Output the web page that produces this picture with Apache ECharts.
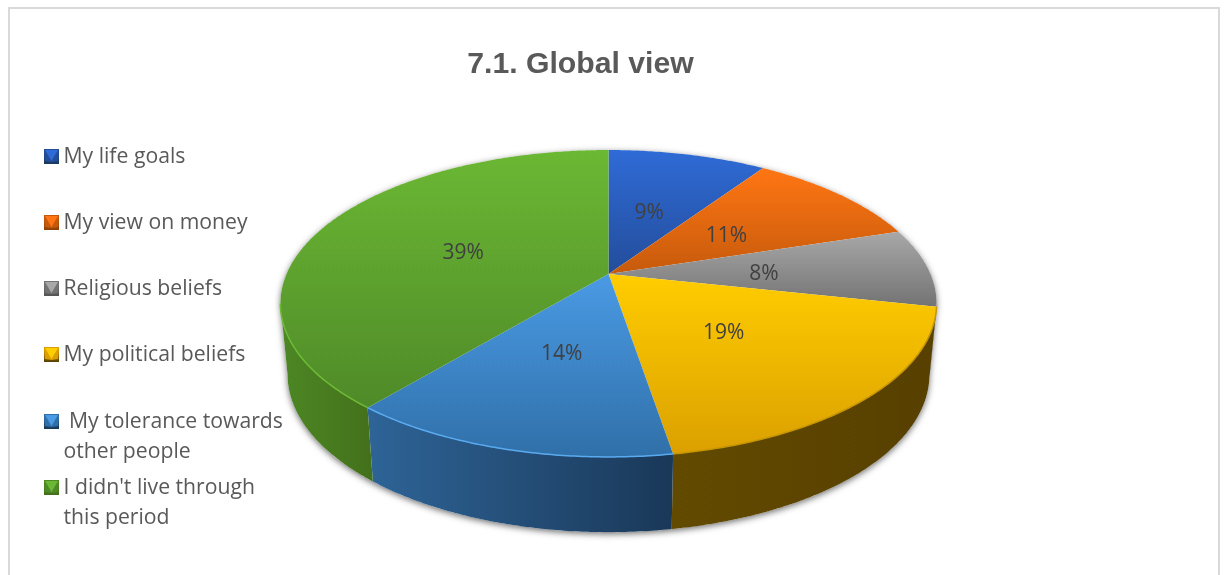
<!DOCTYPE html>
<html>
<head>
<meta charset="utf-8">
<style>
  html, body { margin: 0; padding: 0; background: #fff; }
  #chart { width: 1224px; height: 575px; }
</style>
<script src="https://cdn.jsdelivr.net/npm/echarts@6/dist/echarts.min.js"></script>
</head>
<body>
<div id="chart"></div>
<script>
// values, the labels show them rounded
var categories = ['My life goals', 'My view on money', 'Religious beliefs', 'My political beliefs', ' My tolerance towards\nother people', "I didn't live through\nthis period"];
var shares = [9.4, 10.7, 8.3, 19.0, 13.6, 39.0];

// palette: light and dark end of each top face, then of each side wall
var topLight = ['#2f6bd6', '#ff7613', '#a8a8a8', '#ffcd00', '#4a9ae4', '#6bb834'];
var topDark = ['#234d9b', '#c65a0c', '#737373', '#dba000', '#3070a9', '#4f8a28'];
var wallLeft = ['#234d9b', '#c65a0c', '#737373', '#624a00', '#2e6497', '#4d8724'];
var wallRight = ['#1b3a5c', '#8f4108', '#555555', '#574000', '#1a3858', '#43701b'];
var rimColors = ['#2f6bd6', '#ff7613', '#a8a8a8', '#c79500', '#5aaaf0', '#6cbb36'];

var legendTops = [156, 222, 288, 354, 421, 487];

// perspective of the disc: rim and apex are not concentric on screen
var cx = 608.5;
var persp = -0.192;
var topFace = { rx: 322, a: 95.2, b: 274 };
var bottomFace = { rx: 315, a: 86, b: 344 };
var labelRadius = 0.49;
var wallFrom = Math.acos(persp);            // right edge of the silhouette
var wallTo = 2 * Math.PI - wallFrom;        // left edge of the silhouette

function project(face, theta, r) {
  var u = Math.sin(theta) * r;
  var v = -Math.cos(theta) * r;
  var d = 1 + persp * v;
  return [cx + face.rx * u / d, (face.a * v + face.b) / d];
}

function arc(face, from, to) {
  var pts = [];
  var steps = Math.max(2, Math.ceil(Math.abs(to - from) / 0.01));
  for (var i = 0; i <= steps; i++) {
    pts.push(project(face, from + (to - from) * i / steps, 1));
  }
  return pts;
}

function shareAngle(upto) {
  var sum = 0;
  for (var i = 0; i < upto; i++) sum += shares[i];
  return sum / 100 * 2 * Math.PI;
}

function gradient(x2, y2, c1, c2) {
  return new echarts.graphic.LinearGradient(0, 0, x2, y2, [
    { offset: 0, color: c1 },
    { offset: 1, color: c2 }
  ]);
}

function renderSlice(params, api) {
  var i = params.dataIndex;
  var from = shareAngle(i);
  var to = from + api.value(0) / 100 * 2 * Math.PI;
  var mid = (from + to) / 2;
  var children = [];

  // side wall only where the rim faces the viewer
  var a = Math.max(from, wallFrom);
  var b = Math.min(to, wallTo);
  if (b > a) {
    children.push({
      type: 'polygon',
      shape: { points: arc(topFace, a, b).concat(arc(bottomFace, b, a)) },
      style: { fill: gradient(1, 0, wallLeft[i], wallRight[i]) }
    });
  }

  children.push({
    type: 'polygon',
    shape: { points: [project(topFace, 0, 0)].concat(arc(topFace, from, to)) },
    style: { fill: gradient(0, 1, topLight[i], topDark[i]) }
  });

  if (b > a) {
    children.push({
      type: 'polyline',
      shape: { points: arc(topFace, a, b) },
      style: { fill: null, stroke: rimColors[i], lineWidth: 1.5 }
    });
  }

  var pos = project(topFace, mid, labelRadius);
  children.push({
    type: 'text',
    z2: 10,
    style: {
      text: Math.round(api.value(0)) + '%',
      x: pos[0] - 1.5,
      y: pos[1] + 3,
      align: 'center',
      verticalAlign: 'middle',
      fill: '#404040',
      font: '21px "Open Sans"'
    }
  });
  return { type: 'group', children: children };
}

// soft shadow round the whole disc, drawn under the slices
function renderShadow() {
  var back = arc(topFace, wallTo, wallFrom + 2 * Math.PI);
  return {
    type: 'polygon',
    shape: { points: back.concat(arc(bottomFace, wallFrom, wallTo)) },
    style: { fill: '#fff', shadowBlur: 6, shadowOffsetY: 2, shadowColor: 'rgba(0,0,0,0.55)' }
  };
}

function legendItem(name, i) {
  var x = 44, size = 15, y = legendTops[i] - 7;
  return {
    type: 'group',
    children: [
      { type: 'rect', shape: { x: x, y: y, width: size, height: size }, style: { fill: gradient(0, 1, topDark[i], wallRight[i]) } },
      { type: 'polygon', shape: { points: [[x, y], [x + size, y], [x + size - 1, y + size - 3], [x + size / 2, y + size - 2], [x + 1, y + size - 3]] }, style: { fill: topDark[i] } },
      { type: 'polygon', shape: { points: [[x + 1, y + 1], [x + size - 1, y + 1], [x + size / 2, y + size - 3]] }, style: { fill: topLight[i] } },
      {
        type: 'text',
        style: {
          text: name,
          x: 63.5,
          y: legendTops[i] - 14,
          fill: '#595959',
          font: '21.2px "Open Sans"',
          lineHeight: 30,
          verticalAlign: 'top'
        }
      }
    ]
  };
}

var chart = echarts.init(document.getElementById('chart'));
chart.setOption({
  animation: false,
  backgroundColor: '#fff',
  title: {
    text: '7.1. Global view',
    left: 575.5,
    top: 45,
    textAlign: 'center',
    textStyle: { fontFamily: 'Liberation Sans', fontSize: 30.2, fontWeight: 'bold', color: '#595959' }
  },
  graphic: [
    // chart frame, it runs off the bottom of the page
    { type: 'rect', shape: { x: 9, y: 8, width: 1210, height: 600 }, style: { fill: null, stroke: '#d9d9d9', lineWidth: 2 }, silent: true }
  ].concat(categories.map(legendItem)),
  series: [
    { type: 'custom', coordinateSystem: 'none', silent: true, z: 1, data: [0], renderItem: renderShadow },
    { type: 'custom', coordinateSystem: 'none', silent: true, z: 2, data: shares.map(function (s, i) { return { name: categories[i], value: [s] }; }), renderItem: renderSlice }
  ]
});
</script>
</body>
</html>
